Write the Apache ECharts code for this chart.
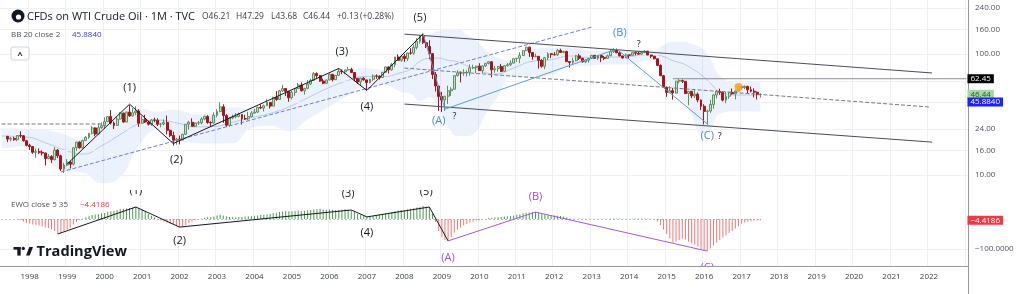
<!DOCTYPE html>
<html><head><meta charset="utf-8">
<script src="https://cdn.jsdelivr.net/npm/echarts@6/dist/echarts.min.js"></script>
<style>html,body{margin:0;padding:0;background:#fff}#c{width:1024px;height:294px}</style>
</head><body><div id="c"></div>
<script>
// ---------- categories (monthly bars, Apr 1997 .. Jan 2023) ----------
const categories = [];
for (let k = 0; k < 310; k++) {
  const y = 1997 + Math.floor((3 + k) / 12), m = (3 + k) % 12 + 1;
  categories.push(y + '-' + String(m).padStart(2, '0'));
}
// ---------- price candles [open, high, low, close], monthly from candleStart ----------
const candleStart = '1997-06';
const candles = [
  [20.9,20.9,18.7,19.8],[19.8,20.6,19.0,20.1],[20.1,20.7,19.2,19.6],[19.6,21.3,19.0,21.2],[21.2,23.0,20.3,21.1],[21.1,21.3,18.9,19.2],[19.2,19.4,17.3,17.6],
  [17.6,18.1,16.1,17.2],[17.2,17.3,15.0,15.4],[15.4,16.5,13.9,15.6],[15.6,16.6,14.9,15.4],[15.4,16.0,14.5,15.2],[15.2,15.3,12.0,13.7],[13.7,14.9,13.5,14.2],[14.2,14.6,12.6,13.4],[13.4,17.0,13.2,16.1],[16.1,16.4,13.8,14.4],[14.4,14.7,10.8,11.2],[11.2,12.6,10.4,12.1],
  [12.1,13.5,11.8,12.8],[12.8,13.1,11.3,12.3],[12.3,16.9,12.0,16.8],[16.8,18.8,15.8,18.7],[18.7,19.0,16.5,16.8],[16.8,19.6,16.6,19.3],[19.3,21.0,19.1,20.5],[20.5,22.2,19.9,22.1],[22.1,25.3,21.6,24.5],[24.5,24.8,20.9,21.8],[21.8,26.7,21.5,24.6],[24.6,27.2,24.1,25.6],
  [25.6,30.0,24.0,27.6],[27.6,30.4,27.4,30.4],[30.4,34.4,26.1,26.9],[26.9,27.7,24.0,25.7],[25.7,30.4,25.4,29.0],[29.0,33.0,28.8,32.5],[32.5,32.7,27.1,27.4],[27.4,33.5,27.4,33.1],[33.1,37.8,30.3,30.8],[30.8,35.7,30.4,32.7],[32.7,37.0,31.2,33.8],[33.8,35.0,25.0,26.8],
  [26.8,30.6,26.7,28.7],[28.7,31.4,26.9,27.4],[27.4,28.0,25.7,26.3],[26.3,29.0,25.5,28.5],[28.5,29.8,27.3,28.4],[28.4,29.4,25.4,26.3],[26.3,27.0,24.8,26.4],[26.4,28.8,25.8,27.2],[27.2,31.0,21.6,23.4],[23.4,23.8,20.6,21.2],[21.2,22.8,17.5,19.4],[19.4,20.3,17.8,19.8],
  [19.8,21.2,17.9,19.5],[19.5,21.9,19.4,21.7],[21.7,26.3,21.4,26.3],[26.3,28.0,23.7,27.3],[27.3,29.4,25.2,25.3],[25.3,27.2,24.9,26.9],[26.9,28.0,25.9,27.0],[27.0,30.0,26.2,29.0],[29.0,31.0,28.4,30.5],[30.5,31.2,26.5,27.2],[27.2,27.8,25.0,26.9],[26.9,33.0,26.6,31.2],
  [31.2,35.0,30.0,33.5],[33.5,39.9,33.0,36.6],[36.6,38.4,27.0,31.0],[31.0,31.8,24.9,25.8],[25.8,30.0,25.1,29.6],[29.6,31.6,28.9,30.2],[30.2,32.5,29.4,30.5],[30.5,32.8,30.0,31.6],[31.6,31.7,26.1,29.2],[29.2,31.4,28.6,29.1],[29.1,33.3,28.3,30.4],[30.4,33.7,30.0,32.5],
  [32.5,35.2,32.2,33.1],[33.1,36.8,32.5,36.2],[36.2,38.3,35.0,35.8],[35.8,38.2,33.5,37.4],[37.4,42.3,37.2,39.9],[39.9,40.0,35.4,37.1],[37.1,44.4,37.0,43.8],[43.8,49.4,41.0,42.1],[42.1,50.5,42.1,49.6],[49.6,55.7,48.6,51.8],[51.8,52.0,45.0,49.1],[49.1,49.6,40.3,43.5],
  [43.5,49.8,42.1,48.2],[48.2,52.0,45.1,51.8],[51.8,57.6,51.6,55.4],[55.4,58.3,49.0,49.7],[49.7,52.6,46.2,52.0],[52.0,60.9,51.2,56.5],[56.5,62.5,55.2,60.6],[60.6,70.9,60.0,68.9],[68.9,70.6,62.0,66.2],[66.2,67.2,59.0,59.8],[59.8,62.7,56.3,57.3],[57.3,61.4,56.8,61.0],
  [61.0,69.2,60.8,67.9],[67.9,68.7,59.3,61.4],[61.4,67.1,60.8,66.6],[66.6,75.4,66.3,71.9],[71.9,74.6,68.2,71.3],[71.3,74.0,68.0,73.9],[73.9,78.4,72.8,74.4],[74.4,77.0,69.5,70.3],[70.3,70.5,59.5,62.9],[62.9,63.4,56.5,58.7],[58.7,63.5,55.4,63.1],[63.1,64.5,60.3,61.1],
  [61.1,61.2,49.9,58.1],[58.1,62.4,57.2,61.8],[61.8,68.0,59.8,65.9],[65.9,67.9,62.4,65.7],[65.7,66.6,61.6,64.0],[64.0,70.9,63.9,70.7],[70.7,78.8,70.4,78.2],[78.2,78.7,69.0,74.0],[74.0,84.1,72.8,81.7],[81.7,94.7,77.6,94.5],[94.5,99.3,88.0,88.7],[88.7,98.2,86.0,96.0],
  [96.0,100.1,86.1,91.8],[91.8,102.6,87.5,101.8],[101.8,111.8,98.7,101.6],[101.6,119.9,98.7,113.5],[113.5,135.1,109.1,127.4],[127.4,143.7,122.0,140.0],[140.0,147.3,121.0,124.1],[124.1,126.1,112.0,115.5],[115.5,130.0,90.5,100.6],[100.6,102.0,62.0,67.8],[67.8,71.0,49.0,54.4],[54.4,54.8,33.9,44.6],
  [44.6,48.6,33.2,41.7],[41.7,45.0,33.9,44.8],[44.8,54.7,38.6,49.7],[49.7,53.2,45.1,51.1],[51.1,66.6,50.9,66.3],[66.3,73.4,65.3,69.9],[69.9,71.9,58.3,69.5],[69.5,75.0,66.0,70.0],[70.0,73.4,65.1,70.6],[70.6,82.0,66.2,77.0],[77.0,81.5,75.0,77.3],[77.3,80.0,69.5,79.4],
  [79.4,83.9,72.4,72.9],[72.9,80.5,69.5,79.7],[79.7,83.9,78.3,83.8],[83.8,87.2,82.0,86.2],[86.2,87.0,64.2,74.0],[74.0,79.6,70.0,75.6],[75.6,79.4,71.4,79.0],[79.0,82.8,70.8,71.9],[71.9,80.3,71.7,80.0],[80.0,84.2,79.1,81.4],[81.4,88.6,79.4,84.1],[84.1,91.9,83.8,91.4],
  [91.4,92.6,86.0,92.2],[92.2,103.4,84.0,97.0],[97.0,106.9,96.9,106.7],[106.7,114.2,105.2,113.9],[113.9,114.8,94.6,102.7],[102.7,103.4,89.7,95.4],[95.4,100.6,94.0,95.7],[95.7,96.0,75.7,88.8],[88.8,90.5,77.1,79.2],[79.2,94.6,74.9,93.2],[93.2,103.4,89.1,100.4],[100.4,101.8,92.5,98.8],
  [98.8,103.7,97.0,98.5],[98.5,109.8,96.2,107.1],[107.1,110.6,102.5,103.0],[103.0,106.5,101.2,104.9],[104.9,106.4,86.0,86.5],[86.5,87.4,77.3,85.0],[85.0,92.9,82.8,88.1],[88.1,98.3,86.9,96.5],[96.5,100.4,89.3,92.2],[92.2,93.0,84.7,86.2],[86.2,90.0,84.1,88.9],[88.9,92.0,84.8,91.8],
  [91.8,98.2,91.5,97.5],[97.5,98.2,91.8,92.1],[92.1,97.7,89.3,97.2],[97.2,97.9,85.6,93.5],[93.5,96.4,89.4,92.0],[92.0,99.0,91.1,96.6],[96.6,109.3,96.0,105.0],[105.0,112.2,102.2,107.7],[107.7,110.7,101.6,102.3],[102.3,104.5,95.7,96.4],[96.4,96.6,91.8,92.7],[92.7,100.8,92.6,98.4],
  [98.4,98.8,91.2,97.5],[97.5,103.6,96.8,102.6],[102.6,105.2,97.4,101.6],[101.6,104.9,99.1,99.7],[99.7,104.7,99.2,102.7],[102.7,107.7,101.8,105.4],[105.4,106.4,97.9,98.2],[98.2,98.6,92.5,96.0],[96.0,96.2,90.4,91.2],[91.2,91.8,79.4,80.5],[80.5,82.0,65.7,66.2],[66.2,67.1,52.4,53.3],
  [53.3,53.5,44.2,48.2],[48.2,54.2,47.4,49.8],[49.8,52.5,42.0,47.6],[47.6,59.9,47.0,59.6],[59.6,62.6,57.2,60.3],[60.3,61.6,57.5,59.5],[59.5,59.9,46.7,47.1],[47.1,49.3,37.8,49.2],[49.2,49.4,43.2,45.1],[45.1,50.9,43.2,46.6],[46.6,48.0,39.9,41.7],[41.7,42.0,34.5,37.0],
  [37.0,38.4,26.2,33.6],[33.6,34.7,26.1,33.8],[33.8,41.9,32.6,38.3],[38.3,46.8,35.2,45.9],[45.9,50.2,43.0,49.1],[49.1,51.7,46.0,48.3],[48.3,49.0,40.6,41.6],[41.6,48.8,39.2,44.7],[44.7,48.4,42.5,48.2],[48.2,51.9,46.1,46.9],[46.9,49.9,42.2,49.4],[49.4,54.5,49.2,53.7],
  [53.7,55.2,50.7,52.8],[52.8,54.9,51.2,54.0],[54.0,54.6,47.1,50.6],[50.6,53.8,48.2,49.3],[49.3,52.0,43.8,48.3],[48.3,48.9,42.1,46.31],[46.21,47.29,43.68,46.44]
];
// ---------- Bollinger band (20, 2) ----------
const bbMonths = ['1997-04','1997-12','1998-06','1998-12','1999-06','1999-12','2000-06','2000-12','2001-06','2001-12','2002-06','2002-12','2003-06','2003-12','2004-06','2004-12','2005-06','2005-12','2006-06','2006-12','2007-06','2007-12','2008-03','2008-06','2008-09','2008-12','2009-03','2009-06','2009-09','2009-12','2010-03','2010-06','2010-12','2011-06','2011-12','2012-06','2012-12','2013-06','2013-12','2014-06','2014-09','2014-12','2015-03','2015-06','2015-09','2015-12','2016-03','2016-06','2016-12','2017-07'];
const bbUpper = [24.5,24.0,23.5,21.6,19.3,26.2,33.6,35.5,33.4,34.6,31.6,32.2,36.3,35.2,39.1,50.0,58.0,67.6,74.7,76.4,74.2,92.0,103,133,145,155,160,160,145,130,108,95.4,88,109,112.5,113,107,106,107,108.5,107,118,126,126,121,113,91.5,66,58,58.6];
const bbBasis = [21.0,20.6,18.5,16.2,14.9,17.4,21.6,26.5,28.4,27.0,25.0,25.2,27.3,29.8,32.3,36.5,43.4,51.6,59.3,65.0,65.0,70.3,75,87,92,92.4,88.6,86.5,80,75.6,70,68.2,76.6,87,89.7,96.2,93.8,94.2,94.6,98.5,98.6,95.2,88,83.7,76,67.5,57.5,48.8,45.8,45.88];
const bbLower = [16.5,17.2,13.5,10.8,10.5,8.6,9.6,17.5,23.4,19.4,18.4,18.2,18.3,24.4,25.5,23.0,28.8,35.6,43.9,53.6,55.8,48.6,47,41,44,35,25,21,21,23,32,41,65,65,67,79,80,82,82,88.5,90,72,50,42,31,22,23.5,32,33.6,33.2];
// ---------- EWO (5, 35) histogram, monthly from ewoStart ----------
const ewoStart = '1997-10';
const ewo = [
  -3,-8,-13,
  -16,-18,-20,-22,-25,-28,-30,-34,-40,-50,-47,-42,
  -36,-28,-18,-10,-4,2,6,9,13,15,17,19,
  20,24,26,27,30,33,33,35,37,38,40,36,
  30,24,17,11,5,-2,-5,-8,-12,-16,-20,-24,
  -27,-25,-20,-14,-9,-5,-1,2,4,6,7,8,
  12,14,12,9,7,6,6,7,7,8,9,10,
  11,12,13,14,16,17,19,21,23,25,27,26,
  26,27,28,27,27,28,30,32,33,34,32,31,
  32,31,30,31,32,33,31,28,23,17,13,10,
  7,8,10,12,14,16,19,21,23,26,28,30,
  30,32,34,36,38,40,43,42,38,18,-10,-40,
  -60,-70,-73,-60,-45,-35,-28,-22,-17,-12,-9,-6,
  -4,-2,1,3,4,5,6,7,8,9,10,12,
  14,16,19,21,22,23,23,21,18,15,14,13,
  12,11,10,8,5,2,1,1,1,1,0.5,0.5,
  0.5,1,1,0.5,0.5,0.5,1,2,2,2,1,1,
  1,1,2,2,2,2,2,1,-2,-8,-20,-35,
  -50,-65,-78,-75,-70,-66,-68,-76,-82,-86,-92,-100,
  -104,-107,-98,-88,-78,-70,-62,-55,-47,-40,-32,-24,
  -16,-12,-9,-7,-6,-5,-4.4186
];
// ---------- price-axis ticks ----------
const priceTicks = [240, 160, 100, 60, 40, 24, 16, 10];
const priceTickLabels = ['240.00','160.00','100.00','','','24.00','16.00','10.00'];
// ---------- legend texts ----------
const titleText = 'CFDs on WTI Crude Oil \u00b7 1M \u00b7 TVC';
const ohlcTexts = ['O46.21', 'H47.29', 'L43.68', 'C46.44', '+0.13', '(+0.28%)'];
// ---------- wave annotations (month, price) ----------
const waveImpulse = [['1999-01',12.3],['2000-09',38.5],['2001-11',18.2],['2006-04',76],['2007-01',50],['2008-07',147]];
const waveABC = [['2008-07',147],['2009-02',35],['2013-09',110],['2016-02',26.5]];
const supportDash = [['1998-11',10.6],['2013-01',167]];
const channelUpper = [['2008-01',146],['2022-02',69.7]];
const channelLower = [['2008-01',38.6],['2022-02',18.7]];
const channelMid = [['2008-01',76.5],['2022-01',36.5]];
const oldLevel = [['1997-04',26.4],['2000-01',26.4]];
const level6245 = [['2015-03',62.45],['2023-01',62.45]];
const markerDot = [['2016-12',53.4]];
const mainLabels = [
  ['(1)','2000-09',52.4,'#131722',11],['(2)','2001-12',13.3,'#131722',11],['(3)','2006-05',104,'#131722',11],
  ['(4)','2007-01',36.5,'#131722',11],['(5)','2008-06',198,'#131722',11],
  ['(A)','2008-12',27.9,'#4a8cc9',11],['?','2009-05',30.2,'#131722',9],
  ['(B)','2013-10',149,'#4a8cc9',11],['?','2014-04',119,'#131722',9],
  ['(C)','2016-02',21,'#4a8cc9',11],['?','2016-06',21,'#131722',9]
];
// ---------- EWO annotations (month, ewo value) ----------
const ewoImpulse = [['1998-10',-50],['2000-11',40],['2002-01',-27],['2006-08',30],['2007-01',7],['2008-09',40],['2009-03',-73]];
const ewoABC = [['2009-03',-73],['2011-07',23],['2016-02',-107]];
const ewoLabels = [
  ['(1)','2000-11',94,'#131722',11],['(2)','2002-01',-73,'#131722',11],['(3)','2006-07',83,'#131722',11],
  ['(4)','2007-01',-47,'#131722',11],['(5)','2008-08',92,'#131722',11],
  ['(A)','2009-03',-130,'#9b4fd6',11],['(B)','2011-07',73,'#9b4fd6',11],['(C)','2016-02',-163,'#9b4fd6',11]
];
const lastClose = 46.44, bbValue = 45.8840, ewoLast = -4.4186, hLevel = 62.45;

// ---------- build ----------
const FONT = '"Open Sans", "Noto Sans", sans-serif';
const CLEAR = 'rgba(0,0,0,0)';
const idx = m => categories.indexOf(m);
const cs = idx(candleStart), es = idx(ewoStart);
const candleData = categories.map((m, i) => { const r = candles[i - cs]; return r ? [r[0], r[3], r[2], r[1]] : '-'; });
const ewoData = categories.map((m, i) => { const v = ewo[i - es]; return v === undefined ? '-' : v; });
const isJan = (i, v) => v.slice(5) === '01';
const isJanLabel = (i, v) => v.slice(5) === '01' && v < '2023';

function seg(points, color, type, xi, yi, z) {
  return {type: 'line', xAxisIndex: xi, yAxisIndex: yi, data: points, symbol: 'none', silent: true,
    lineStyle: {color: color, width: 1, type: type}, z: z, animation: false};
}
function texts(items, xi, yi, clip) {
  return {type: 'custom', xAxisIndex: xi, yAxisIndex: yi, clip: clip, silent: true, z: 30,
    data: items.map(t => [t[1], t[2]]),
    renderItem: (params, api) => {
      const it = items[params.dataIndex];
      const p = api.coord([api.value(0), api.value(1)]);
      return {type: 'text', x: p[0], y: p[1],
        style: {text: it[0], fill: it[3], font: it[4] + 'px ' + FONT, align: 'center', verticalAlign: 'middle'}};
    }};
}
function tagLine(v, text, bg, fg, dy) {
  return [
    {coord: ['2022-06', v], lineStyle: {color: CLEAR, width: 1},
      label: {show: true, position: 'end', distance: 1, formatter: text, backgroundColor: bg, color: fg,
        fontSize: 8, fontFamily: FONT, padding: [1, 3, 0, 3], offset: [0, dy || 0]}},
    {coord: ['2023-01', v]}
  ];
}

const gridMarks = priceTicks.map((v, i) => ({
  yAxis: v, lineStyle: {color: '#eef0f4', type: 'solid', width: 1},
  label: {show: priceTickLabels[i] !== '', position: 'end', distance: 7, formatter: priceTickLabels[i], color: '#50535e', fontSize: 8, fontFamily: FONT}
}));

const G = 50;
const ohlcX = [202, 236, 271, 303, 337, 360];
const option = {
  animation: false,
  backgroundColor: '#ffffff',
  grid: [
    {left: 0, right: 56, top: 0, height: 190},
    {left: 0, right: 56, top: 190, height: 76}
  ],
  xAxis: [
    {type: 'category', gridIndex: 0, data: categories, axisLine: {show: false}, axisTick: {show: false}, axisLabel: {show: false},
      splitLine: {show: true, interval: isJan, lineStyle: {color: '#eef0f4'}}},
    {type: 'category', gridIndex: 1, data: categories, axisLine: {show: true, onZero: false, lineStyle: {color: '#9598a1'}}, axisTick: {show: false},
      axisLabel: {interval: isJanLabel, formatter: v => v.slice(0, 4), color: '#3a3e48', fontSize: 8, fontFamily: FONT, margin: 7},
      splitLine: {show: true, interval: isJan, lineStyle: {color: '#eef0f4'}}}
  ],
  yAxis: [
    {type: 'log', logBase: 10, gridIndex: 0, position: 'right', min: 7.52, max: 279.4,
      axisLine: {show: true, lineStyle: {color: '#9598a1'}}, axisTick: {show: false}, axisLabel: {show: false}, splitLine: {show: false}},
    {type: 'value', gridIndex: 1, position: 'right', min: -156.7, max: 96.7,
      axisLine: {show: true, lineStyle: {color: '#9598a1'}}, axisTick: {show: false}, axisLabel: {show: false}, splitLine: {show: false}}
  ],
  series: [
    {type: 'line', name: 'bbLower', xAxisIndex: 0, yAxisIndex: 0, data: bbMonths.map((m, i) => [m, bbLower[i]]),
      stack: 'bb', smooth: 0.5, symbol: 'none', silent: true, lineStyle: {opacity: 0}, z: 1,
      markLine: {silent: true, symbol: ['none', 'none'], animation: false, data: gridMarks}},
    {type: 'line', name: 'bbWidth', xAxisIndex: 0, yAxisIndex: 0, data: bbMonths.map((m, i) => [m, bbUpper[i] - bbLower[i]]),
      stack: 'bb', smooth: 0.5, symbol: 'none', silent: true, lineStyle: {opacity: 0}, areaStyle: {color: 'rgba(79,136,214,0.15)'}, z: 1},
    {type: 'line', name: 'bbBasis', xAxisIndex: 0, yAxisIndex: 0, data: bbMonths.map((m, i) => [m, bbBasis[i]]),
      smooth: 0.5, symbol: 'none', silent: true, lineStyle: {color: 'rgba(90,130,200,0.35)', width: 1}, z: 2},
    {type: 'candlestick', xAxisIndex: 0, yAxisIndex: 0, data: candleData, barWidth: '78%', z: 5, silent: true,
      itemStyle: {color: '#c3e3c3', color0: '#a3161b', borderColor: '#5d8f63', borderColor0: '#a3161b', borderWidth: 1}},
    seg(supportDash, '#6f7fc7', 'dashed', 0, 0, 8),
    seg(oldLevel, '#787b86', 'dashed', 0, 0, 8),
    seg(channelMid, '#787b86', 'dashed', 0, 0, 8),
    seg(channelUpper, '#4a4d57', 'solid', 0, 0, 8),
    seg(channelLower, '#4a4d57', 'solid', 0, 0, 8),
    seg(waveImpulse, '#131722', 'solid', 0, 0, 9),
    seg(waveABC, '#5b9bd5', 'solid', 0, 0, 9),
    Object.assign(seg(level6245, '#8a8d96', 'solid', 0, 0, 10), {
      markLine: {silent: true, symbol: ['none', 'none'], animation: false, data: [
        tagLine(hLevel, '62.45', '#000000', '#ffffff'),
        tagLine(lastClose, '46.44', '#a5d6a7', '#1b5e20'),
        tagLine(bbValue, '45.8840', '#1f1fff', '#ffffff', 7)
      ]}}),
    {type: 'scatter', xAxisIndex: 0, yAxisIndex: 0, data: markerDot, symbolSize: 8, itemStyle: {color: '#ffa726', opacity: 0.9}, z: 12, silent: true},
    texts(mainLabels, 0, 0, false),
    // EWO pane
    {type: 'bar', xAxisIndex: 1, yAxisIndex: 1, data: ewoData, barWidth: 1, silent: true, z: 5,
      itemStyle: {color: p => (p.value >= 0 ? '#4f9a55' : '#ec7a7a')},
      markLine: {silent: true, symbol: ['none', 'none'], animation: false, data: [
        {yAxis: -100, lineStyle: {color: '#eef0f4', type: 'solid', width: 1},
          label: {show: true, position: 'end', distance: 7, formatter: '\u2212100.0000', color: '#50535e', fontSize: 8, fontFamily: FONT}},
        [{coord: ['1997-04', 0], lineStyle: {color: '#787b86', type: [1, 3], width: 1}, label: {show: false}}, {coord: ['2017-07', 0]}],
        tagLine(ewoLast, '\u22124.4186', '#f23645', '#ffffff')
      ]}},
    seg(ewoImpulse, '#131722', 'solid', 1, 1, 9),
    seg(ewoABC, '#a25ad9', 'solid', 1, 1, 9),
    texts(ewoLabels, 1, 1, true)
  ],
  graphic: [
    {type: 'circle', z: G, shape: {cx: 18, cy: 16, r: 6.5}, style: {fill: '#131722'}},
    {type: 'circle', z: G, shape: {cx: 18.5, cy: 17, r: 2.6}, style: {fill: '#ffffff'}},
    {type: 'text', z: G, x: 27, y: 16.5, style: {text: titleText, fill: '#131722', font: '11px ' + FONT, verticalAlign: 'middle'}}
  ].concat(ohlcTexts.map((t, i) => ({type: 'text', z: G, x: ohlcX[i], y: 17,
      style: {text: t, fill: '#3b3e47', font: '8.5px ' + FONT, verticalAlign: 'middle'}}))).concat([
    {type: 'text', z: G, x: 11, y: 35, style: {text: 'BB 20 close 2', fill: '#50535e', font: '8px ' + FONT, verticalAlign: 'middle'}},
    {type: 'text', z: G, x: 72, y: 35, style: {text: '45.8840', fill: '#3c3ccf', font: '8px ' + FONT, verticalAlign: 'middle'}},
    {type: 'rect', z: G, shape: {x: 11, y: 47, width: 18, height: 13, r: 2}, style: {fill: '#ffffff', stroke: '#d1d4dc', lineWidth: 1}},
    {type: 'text', z: G, x: 20, y: 55, style: {text: '^', fill: '#131722', font: 'bold 9px ' + FONT, align: 'center', verticalAlign: 'middle'}},
    {type: 'text', z: G, x: 11, y: 205, style: {text: 'EWO close 5 35', fill: '#50535e', font: '8px ' + FONT, verticalAlign: 'middle'}},
    {type: 'text', z: G, x: 80, y: 205, style: {text: '\u22124.4186', fill: '#f23645', font: '8px ' + FONT, verticalAlign: 'middle'}},
    {type: 'rect', z: G, shape: {x: 13.5, y: 247, width: 7, height: 2.6}, style: {fill: '#131722'}},
    {type: 'rect', z: G, shape: {x: 17.3, y: 247, width: 3.4, height: 8.6}, style: {fill: '#131722'}},
    {type: 'circle', z: G, shape: {cx: 23.3, cy: 248.4, r: 1.6}, style: {fill: '#131722'}},
    {type: 'polygon', z: G, shape: {points: [[26, 255.6], [29.3, 247], [33, 247], [29.7, 255.6]]}, style: {fill: '#131722'}},
    {type: 'text', z: G, x: 36.5, y: 251.5, style: {text: 'TradingView', fill: '#131722', font: 'bold 14.6px ' + FONT, verticalAlign: 'middle'}},
    {type: 'line', z: G, shape: {x1: 968.5, y1: 266, x2: 968.5, y2: 294}, style: {stroke: '#9598a1', lineWidth: 1}}
  ])
};
const chart = echarts.init(document.getElementById('c'), null, {renderer: 'canvas', width: 1024, height: 294});
chart.setOption(option);
</script></body></html>
